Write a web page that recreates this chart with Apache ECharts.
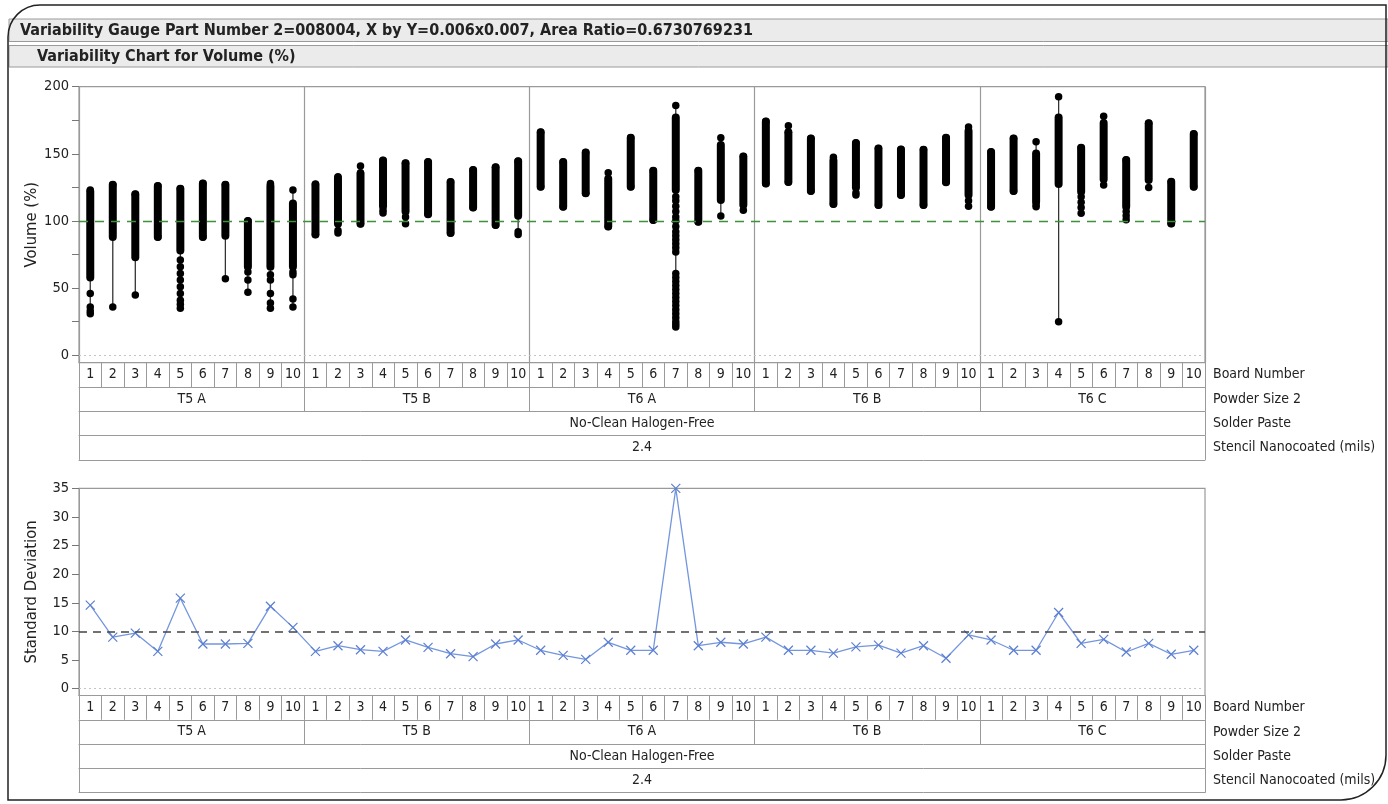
<!DOCTYPE html>
<html><head><meta charset="utf-8">
<script src="https://cdn.jsdelivr.net/npm/echarts@6/dist/echarts.min.js"></script>
<style>html,body{margin:0;padding:0;background:#fff}#c{width:1388px;height:804px}</style>
</head><body><div id="c"></div>
<script>
const FONT = "'DejaVu Sans Condensed','Liberation Sans Narrow',sans-serif";

// ---- categories ----
const boardNumbers = ['1','2','3','4','5','6','7','8','9','10'];
const powderSizes = ['T5 A','T5 B','T6 A','T6 B','T6 C'];
const solderPastes = ['No-Clean Halogen-Free'];
const stencils = ['2.4'];
const rowNames = ['Board Number','Powder Size 2','Solder Paste','Stencil Nanocoated (mils)'];

// ---- Volume (%) per board (50 boards: T5A 1-10, T5B 1-10, T6A 1-10, T6B 1-10, T6C 1-10) ----
const volMax = [
  123,127,120,126,124,128,127,100,128,123,
  127.5,133,141,145,143,144,129,138,140,144.5,
  166,144,151,136,162,137.4,186,137.4,162,148,
  174,171,161.5,147.4,158,154,153.3,153,162,170,
  151.3,161.5,159,192.5,154.5,178,145.4,172.7,129.2,164.7
];
const volMin = [
  31,36,45,88,35,88,57,47,35,36,
  90,91,98,106,98,105,91,110,97,90,
  125.5,110.6,120.6,96,125.5,100.7,21,99.5,103.7,108,
  128,129,122.3,112.6,119.3,112,119.3,112,128.8,111,
  110.6,122.3,110.6,25,105.7,126.8,101,125,98.2,125.5
];
const denseHigh = [
  122,127,120,126,124,128,127,100,126,113,
  127,132,135,145,143,144,129,138,140,144.5,
  166,144,151,131.5,162,137.4,177,137.4,156.5,148,
  174,166,161.5,145,158,154,153.3,153,162,167,
  151.3,161.5,150.3,177,154.5,173,145.4,172.7,129.2,164.7
];
const denseLow = [
  58,88,73,88,78,88,89,66,66,66,
  90,98,98,111,107,105,91,110,97,104,
  125.5,110.6,120.6,96,125.5,100.7,123,99.5,115.6,112,
  128,129,122.3,112.6,125,112,119.3,112,128.8,119.3,
  110.6,122.3,114.3,127.5,121.8,131,110.6,130.5,98.2,125.5
];
// individual points outside the dense band: [board index, value]
const extraDots = [
  [0,46],[0,36],[0,33],
  [4,71],[4,66],[4,61],[4,56],[4,51],[4,46],[4,41],[4,38],
  [7,62],[7,56],
  [8,60],[8,56],[8,46],[8,39],
  [9,62],[9,60],[9,42],
  [14,103],[19,92],[13,108],[11,93],[12,136],
  [26,118],[26,115],[26,111],[26,107],[26,103],[26,100],[26,96],[26,92],[26,89],[26,86],[26,83],[26,80],[26,77],
  [26,61],[26,58],[26,55],[26,52],[26,49],[26,46],[26,43],[26,40],[26,37],[26,34],[26,31],[26,28],[26,25],[26,23],
  [39,115],[34,121],[31,166],
  [44,118],[44,114],[44,110],[46,107],[46,104],[42,112]
];

// ---- Standard deviation per board ----
const stdDev = [
  14.6,9.0,9.7,6.5,15.8,7.8,7.8,7.9,14.4,10.7,
  6.5,7.5,6.8,6.5,8.5,7.2,6.1,5.6,7.8,8.5,
  6.7,5.8,5.1,8.1,6.7,6.7,35,7.5,8.1,7.8,
  9.0,6.7,6.7,6.2,7.3,7.6,6.2,7.5,5.3,9.4,
  8.5,6.7,6.7,13.3,7.9,8.6,6.4,7.9,6.0,6.7
];

// ---- tick labels ----
const volTicks = [0,50,100,150,200];
const volTickMarks = [0,25,50,75,100,125,150,175,200];
const sdTicks = [0,5,10,15,20,25,30,35];

const boardCats = powderSizes.flatMap(() => boardNumbers);
const GRAY = '#9a9a9a';
const ROW = 24.3;
const TXT = '#222';
const GRID_BOTTOMS = [86.7 + 276, 488.3 + 207.2];

function tableAxes(gridIndex) {
  const rows = [
    {data: boardCats},
    {data: powderSizes, split: gridIndex === 0},
    {data: solderPastes},
    {data: stencils}
  ];
  const axes = rows.map((r, k) => ({
    gridIndex, type: 'category', position: 'bottom', offset: k * ROW,
    data: r.data, boundaryGap: true,
    axisLine: {show: true, onZero: false, lineStyle: {color: GRAY, width: 1}},
    axisTick: {show: true, interval: 0, length: ROW, lineStyle: {color: GRAY, width: 1}},
    axisLabel: {show: true, interval: 0, margin: 5, color: TXT, fontFamily: FONT, fontSize: 14, hideOverlap: false},
    splitLine: {show: !!r.split, interval: 0, lineStyle: {color: GRAY, width: 1.2}}
  }));
  axes.push({
    gridIndex, type: 'category', position: 'bottom', offset: 4 * ROW, data: [''],
    axisLine: {show: true, onZero: false, lineStyle: {color: GRAY, width: 1}},
    axisTick: {show: false}, axisLabel: {show: false}, splitLine: {show: false}
  });
  return axes;
}

function rowNameTexts() {
  const out = [];
  GRID_BOTTOMS.forEach(b => {
    rowNames.forEach((n, k) => {
      out.push({type: 'text', z: 10, x: 1213, y: b + k * ROW + ROW / 2,
        style: {text: n, font: '14px ' + FONT, fill: TXT, verticalAlign: 'middle'}});
    });
  });
  return out;
}

const chart = echarts.init(document.getElementById('c'), null, {renderer: 'canvas'});

const scatterData = volMax.map((v, i) => [i, v])
  .concat(volMin.map((v, i) => [i, v]))
  .concat(extraDots);

const option = {
  animation: false,
  backgroundColor: '#fff',
  textStyle: {fontFamily: FONT},
  grid: [
    {left: 79, right: 183, top: 86.7, height: 276, show: true, borderColor: GRAY, borderWidth: 1.2, backgroundColor: 'transparent', containLabel: false, outerBoundsMode: 'none'},
    {left: 79, right: 183, top: 488.3, height: 207.2, show: true, borderColor: GRAY, borderWidth: 1.2, backgroundColor: 'transparent', containLabel: false, outerBoundsMode: 'none'}
  ],
  xAxis: tableAxes(0).concat(tableAxes(1)),
  yAxis: [
    {
      gridIndex: 0, type: 'value', min: -5.5, max: 200,
      axisLine: {show: true, lineStyle: {color: GRAY}},
      axisTick: {show: true, length: 7, customValues: volTickMarks, lineStyle: {color: '#777'}},
      axisLabel: {show: true, margin: 10, customValues: volTicks, color: TXT, fontFamily: FONT, fontSize: 14.5},
      splitLine: {show: false},
      name: 'Volume (%)', nameLocation: 'middle', nameGap: 39, nameMoveOverlap: false,
      nameTextStyle: {color: TXT, fontFamily: FONT, fontSize: 16.5}
    },
    {
      gridIndex: 1, type: 'value', min: -1.2, max: 35,
      axisLine: {show: true, lineStyle: {color: GRAY}},
      axisTick: {show: true, length: 7, customValues: sdTicks, lineStyle: {color: '#777'}},
      axisLabel: {show: true, margin: 10, customValues: sdTicks, color: TXT, fontFamily: FONT, fontSize: 14.5},
      splitLine: {show: false},
      name: 'Standard Deviation', nameLocation: 'middle', nameGap: 39, nameMoveOverlap: false,
      nameTextStyle: {color: TXT, fontFamily: FONT, fontSize: 16.5}
    }
  ],
  series: [
    {
      type: 'custom', xAxisIndex: 0, yAxisIndex: 0,
      data: volMin.map((v, i) => [i, v, volMax[i]]),
      encode: {x: 0, y: [1, 2]},
      renderItem(params, api) {
        const a = api.coord([api.value(0), api.value(1)]);
        const b = api.coord([api.value(0), api.value(2)]);
        return {type: 'line', shape: {x1: a[0], y1: a[1], x2: b[0], y2: b[1]}, style: {stroke: '#333', lineWidth: 1.3}};
      }
    },
    {
      type: 'custom', xAxisIndex: 0, yAxisIndex: 0,
      data: denseLow.map((v, i) => [i, v, denseHigh[i]]),
      encode: {x: 0, y: [1, 2]},
      renderItem(params, api) {
        const lo = api.coord([api.value(0), api.value(1)]);
        const hi = api.coord([api.value(0), api.value(2)]);
        return {type: 'rect', shape: {x: lo[0] - 4, y: hi[1] - 4, width: 8, height: lo[1] - hi[1] + 8, r: 4}, style: {fill: '#000'}};
      }
    },
    {
      type: 'scatter', xAxisIndex: 0, yAxisIndex: 0,
      data: scatterData, symbol: 'circle', symbolSize: 7.5,
      itemStyle: {color: '#000', opacity: 1},
      markLine: {
        silent: true, symbol: 'none', label: {show: false},
        data: [
          {yAxis: 100, lineStyle: {color: '#3f8f3f', type: [9, 7], width: 1.3}},
          {yAxis: 0, lineStyle: {color: '#c4c4c4', type: [2, 3], width: 1}}
        ]
      }
    },
    {
      type: 'line', xAxisIndex: 5, yAxisIndex: 1,
      data: stdDev.map((v, i) => [i, v]),
      symbol: 'path://M0,0L10,10M10,0L0,10', symbolSize: 9, showAllSymbol: true,
      lineStyle: {color: '#7496de', width: 1.3},
      itemStyle: {color: '#5b7fd1', borderColor: '#5b7fd1', borderWidth: 1.2},
      markLine: {
        silent: true, symbol: 'none', label: {show: false},
        data: [
          {yAxis: 10, lineStyle: {color: '#444', type: [8, 6], width: 1.5}},
          {yAxis: 0, lineStyle: {color: '#c4c4c4', type: [2, 3], width: 1}}
        ]
      }
    }
  ],
  graphic: [
    {type: 'rect', z: -10, shape: {x: 9, y: 19, width: 1379, height: 22.5}, style: {fill: '#ebebeb', stroke: '#9a9a9a', lineWidth: 1}},
    {type: 'rect', z: -10, shape: {x: 9, y: 45.5, width: 1379, height: 21.5}, style: {fill: '#ebebeb', stroke: '#9a9a9a', lineWidth: 1}},
    {type: 'text', z: 10, x: 20, y: 30.5, style: {text: 'Variability Gauge Part Number 2=008004, X by Y=0.006x0.007, Area Ratio=0.6730769231', font: 'bold 16px ' + FONT, fill: '#222', verticalAlign: 'middle'}},
    {type: 'text', z: 10, x: 37, y: 56.5, style: {text: 'Variability Chart for Volume (%)', font: 'bold 16px ' + FONT, fill: '#222', verticalAlign: 'middle'}},
    {type: 'rect', z: 20, shape: {x: 8, y: 5, width: 1378, height: 795, r: [32, 0, 45, 0]}, style: {fill: 'none', stroke: '#222', lineWidth: 1.5}}
  ].concat(rowNameTexts())
};
chart.setOption(option);
</script>
</body></html>
